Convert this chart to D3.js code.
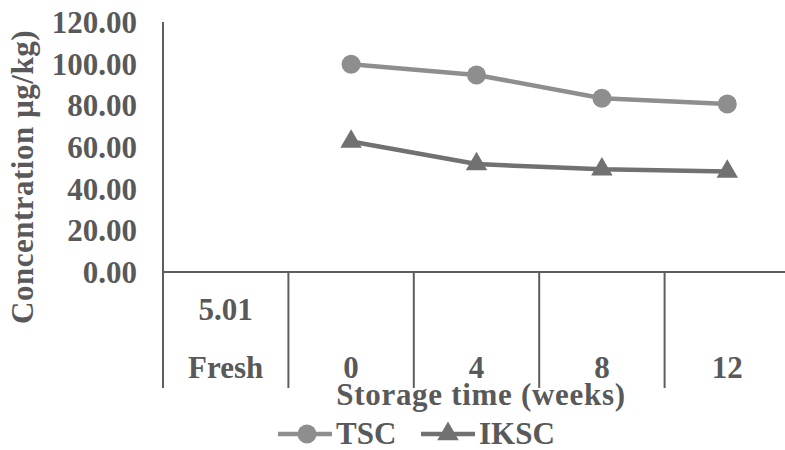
<!DOCTYPE html>
<html><head><meta charset="utf-8">
<script src="https://cdn.jsdelivr.net/npm/d3@7"></script>
<style>
html,body{margin:0;padding:0;background:#fff;overflow:hidden;}
svg text{font-family:"Liberation Serif","Times New Roman",serif;font-weight:bold;fill:#595959;}
</style></head>
<body><svg id="c" width="785" height="450"></svg>
<script>
const categories = ["Fresh", "0", "4", "8", "12"];
const tscValues = [null, 99.7, 94.6, 83.4, 80.6];
const ikscValues = [null, 62.6, 51.8, 49.3, 48.2];
const yTicks = [0, 20, 40, 60, 80, 100, 120];
const freshNote = "5.01";
const seriesNames = ["TSC", "IKSC"];

const svg = d3.select("#c");
const x = d3.scaleBand().domain(categories).range([163, 790]).padding(0);
const y = d3.scaleLinear().domain([0, 120]).range([272, 22]);
const axisColor = "#5e5e5e";
const fs = 31;

// y tick labels
svg.selectAll(".yt").data(yTicks).enter().append("text")
  .attr("x", 137).attr("y", d => y(d)).attr("dy", "0.35em")
  .attr("text-anchor", "end").style("font-size", fs + "px")
  .text(d => d3.format(".2f")(d));

// y axis line
svg.append("line").attr("x1", 163).attr("x2", 163).attr("y1", y(120)).attr("y2", 388)
  .attr("stroke", axisColor).attr("stroke-width", 2);
// zero line
svg.append("line").attr("x1", 163).attr("x2", 785).attr("y1", y(0)).attr("y2", y(0))
  .attr("stroke", axisColor).attr("stroke-width", 2);
// category dividers
svg.selectAll(".div").data(categories.slice(1)).enter().append("line")
  .attr("x1", d => x(d)).attr("x2", d => x(d)).attr("y1", y(0)).attr("y2", 388)
  .attr("stroke", axisColor).attr("stroke-width", 2);

// category labels
svg.selectAll(".cl").data(categories).enter().append("text")
  .attr("x", d => x(d) + x.bandwidth() / 2).attr("y", 378)
  .attr("text-anchor", "middle").style("font-size", fs + "px").text(d => d);
// fresh note
svg.append("text").attr("x", x("Fresh") + x.bandwidth() / 2).attr("y", 320)
  .attr("text-anchor", "middle").style("font-size", fs + "px").text(freshNote);

// axis titles
svg.append("text").attr("x", 481).attr("y", 405).attr("text-anchor", "middle")
  .style("font-size", fs + "px").style("letter-spacing", "0.7px").text("Storage time (weeks)");
svg.append("text").attr("transform", "translate(33,177) rotate(-90)").attr("text-anchor", "middle")
  .style("font-size", fs + "px").style("letter-spacing", "0.5px").text("Concentration µg/kg)");

// series
const colTSC = "#8e8e8e", colIKSC = "#717171";
const line = d3.line().defined(d => d.v != null).x(d => x(d.c) + x.bandwidth() / 2).y(d => y(d.v));
const tscData = categories.map((c, i) => ({c, v: tscValues[i]}));
const ikscData = categories.map((c, i) => ({c, v: ikscValues[i]}));

svg.append("path").datum(tscData).attr("d", line).attr("fill", "none").attr("stroke", colTSC).attr("stroke-width", 4.5);
svg.append("path").datum(ikscData).attr("d", line).attr("fill", "none").attr("stroke", colIKSC).attr("stroke-width", 4.5);

svg.selectAll(".pt1").data(tscData.filter(d => d.v != null)).enter().append("circle")
  .attr("cx", d => x(d.c) + x.bandwidth() / 2).attr("cy", d => y(d.v)).attr("r", 9.5).attr("fill", colTSC);
const tri = d3.symbol().type(d3.symbolTriangle).size(200);
svg.selectAll(".pt2").data(ikscData.filter(d => d.v != null)).enter().append("path")
  .attr("transform", d => `translate(${x(d.c) + x.bandwidth() / 2},${y(d.v)})`).attr("d", tri).attr("fill", colIKSC);

// legend
const lg = svg.append("g");
const ly = 434;
const legendItems = [
  {name: seriesNames[0], col: colTSC, x0: 278, type: "circle"},
  {name: seriesNames[1], col: colIKSC, x0: 421, type: "tri"}
];
legendItems.forEach(it => {
  lg.append("line").attr("x1", it.x0).attr("x2", it.x0 + 54).attr("y1", ly).attr("y2", ly)
    .attr("stroke", it.col).attr("stroke-width", 4.5);
  if (it.type === "circle") lg.append("circle").attr("cx", it.x0 + 29).attr("cy", ly).attr("r", 9.5).attr("fill", it.col);
  else lg.append("path").attr("transform", `translate(${it.x0 + 27},${ly})`).attr("d", tri).attr("fill", it.col);
  lg.append("text").attr("x", it.x0 + 58).attr("y", 444).style("font-size", fs + "px").text(it.name);
});
</script></body></html>
